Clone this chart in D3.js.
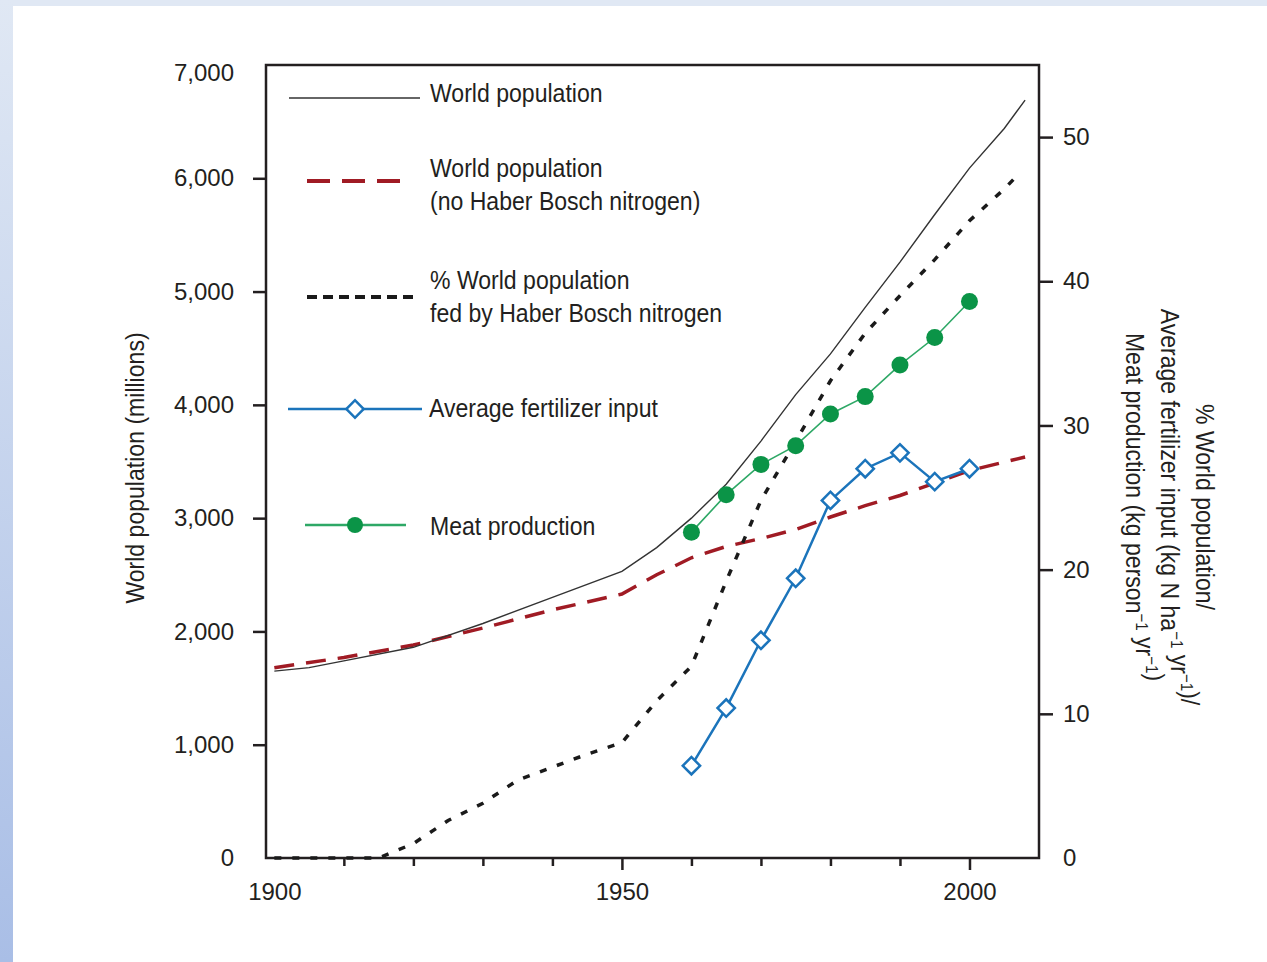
<!DOCTYPE html>
<html>
<head>
<meta charset="utf-8">
<script src="https://cdn.jsdelivr.net/npm/d3@7"></script>
<style>
body { margin: 0; background: #fff; }
svg { display: block; font-family: "Liberation Sans", Arial, sans-serif; }
</style>
</head>
<body>
<svg id="chart"></svg>
<script>
// world population (millions), left axis
const popYears = [1900, 1905, 1910, 1920, 1930, 1940, 1950, 1955, 1960, 1965, 1970, 1975, 1980, 1985, 1990, 1995, 2000, 2005, 2008];
const worldPop = [1650, 1680, 1740, 1860, 2070, 2300, 2530, 2740, 3000, 3300, 3680, 4090, 4450, 4860, 5260, 5680, 6090, 6440, 6690];

// world population without Haber Bosch nitrogen, left axis
const noHbYears = [1900, 1910, 1920, 1930, 1940, 1950, 1955, 1960, 1965, 1970, 1975, 1980, 1985, 1990, 1995, 2000, 2008];
const noHbPop = [1680, 1770, 1880, 2030, 2190, 2330, 2500, 2650, 2750, 2820, 2900, 3010, 3110, 3200, 3310, 3420, 3540];

// % of world population fed by Haber Bosch nitrogen, right axis
const fedYears = [1900, 1905, 1910, 1915, 1920, 1925, 1930, 1935, 1940, 1945, 1950, 1955, 1960, 1965, 1970, 1975, 1980, 1985, 1990, 1995, 2000, 2005, 2007];
const fedPct = [0, 0, 0, 0, 1.0, 2.6, 3.8, 5.4, 6.3, 7.2, 8.0, 10.9, 13.3, 19.2, 24.8, 28.9, 33.1, 36.4, 39.0, 41.5, 44.2, 46.4, 47.4];

// fertilizer input (kg N/ha/yr) and meat production (kg/person/yr), right axis
const markYears = [1960, 1965, 1970, 1975, 1980, 1985, 1990, 1995, 2000];
const fertilizer = [6.4, 10.4, 15.1, 19.4, 24.8, 27.0, 28.1, 26.1, 27.0];
const meat = [22.6, 25.2, 27.3, 28.6, 30.8, 32.0, 34.2, 36.1, 38.6];

// axis ticks
const leftTicks = [0, 1000, 2000, 3000, 4000, 5000, 6000, 7000];
const rightTicks = [0, 10, 20, 30, 40, 50];
const yearTicks = [1900, 1910, 1920, 1930, 1940, 1950, 1960, 1970, 1980, 1990, 2000];
const yearLabels = [1900, 1950, 2000];

const ink = "#231f20";
const red = "#a01b24";
const blue = "#1b74bb";
const green = "#0b9447";
const squeeze = 0.887;

const svg = d3.select("#chart").attr("width", 1267).attr("height", 962);

// page background strips
const grad = svg.append("defs").append("linearGradient")
    .attr("id", "side").attr("x1", 0).attr("y1", 0).attr("x2", 0).attr("y2", 1);
grad.append("stop").attr("offset", "0%").attr("stop-color", "#e0e8f4");
grad.append("stop").attr("offset", "100%").attr("stop-color", "#a9bee6");
svg.append("rect").attr("width", 1267).attr("height", 6).attr("fill", "#e0e8f4");
svg.append("rect").attr("width", 13).attr("height", 962).attr("fill", "url(#side)");

// scales
const x = d3.scaleLinear().domain([1898.8, 2010]).range([266, 1039]);
const yLeft = d3.scaleLinear().domain([0, 7000]).range([858, 65]);
const yRight = d3.scaleLinear().domain([0, 55]).range([858, 65]);

function styleAxis(g) {
    g.attr("font-size", 24).attr("font-family", "Liberation Sans, Arial, sans-serif");
    g.select(".domain").remove();
    g.selectAll(".tick line").attr("stroke", ink).attr("stroke-width", 2.5);
    g.selectAll(".tick text").attr("fill", ink);
}

// left axis
const leftAxis = svg.append("g")
    .attr("transform", "translate(266,0)")
    .call(d3.axisLeft(yLeft).tickValues(leftTicks).tickFormat(d3.format(",")).tickSize(13).tickPadding(19))
    .call(styleAxis);
leftAxis.selectAll(".tick").filter(d => d === 0 || d === 7000).select("line").remove();
leftAxis.selectAll(".tick text").filter(d => d === 7000).attr("dy", "0.64em");

// right axis
const rightAxis = svg.append("g")
    .attr("transform", "translate(1039,0)")
    .call(d3.axisRight(yRight).tickValues(rightTicks).tickSize(14).tickPadding(10))
    .call(styleAxis);
rightAxis.selectAll(".tick").filter(d => d === 0).select("line").remove();

// bottom axis
const bottomAxis = svg.append("g")
    .attr("transform", "translate(0,858)")
    .call(d3.axisBottom(x).tickValues(yearTicks)
        .tickFormat(d => yearLabels.includes(d) ? d : "").tickSize(8).tickPadding(17))
    .call(styleAxis);
bottomAxis.selectAll(".tick").filter(d => d === 1900).select("line").remove();
bottomAxis.selectAll(".tick").filter(d => d === 1950 || d === 2000).select("line").attr("y2", 12);

// frame
svg.append("rect")
    .attr("x", x.range()[0]).attr("y", yLeft.range()[1])
    .attr("width", x.range()[1] - x.range()[0])
    .attr("height", yLeft.range()[0] - yLeft.range()[1])
    .attr("fill", "none").attr("stroke", ink).attr("stroke-width", 2.5);

// series
const lineLeft = d3.line().x(d => x(d[0])).y(d => yLeft(d[1]));
const lineRight = d3.line().x(d => x(d[0])).y(d => yRight(d[1]));

svg.append("path")
    .datum(d3.zip(noHbYears, noHbPop))
    .attr("d", lineLeft)
    .attr("fill", "none").attr("stroke", red).attr("stroke-width", 3.5)
    .attr("stroke-dasharray", "20,12");

svg.append("path")
    .datum(d3.zip(popYears, worldPop))
    .attr("d", lineLeft)
    .attr("fill", "none").attr("stroke", "#333").attr("stroke-width", 1.4);

svg.append("path")
    .datum(d3.zip(fedYears, fedPct))
    .attr("d", lineRight)
    .attr("fill", "none").attr("stroke", "#1a1a1a").attr("stroke-width", 3.5)
    .attr("stroke-dasharray", "7,11");

const fertData = d3.zip(markYears, fertilizer);
svg.append("path")
    .datum(fertData)
    .attr("d", lineRight)
    .attr("fill", "none").attr("stroke", blue).attr("stroke-width", 2.5);

const diamond = d3.symbol().type(d3.symbolSquare).size(150);
svg.append("g").selectAll("path")
    .data(fertData)
    .enter().append("path")
    .attr("d", diamond)
    .attr("transform", d => `translate(${x(d[0])},${yRight(d[1])}) rotate(45)`)
    .attr("fill", "#fff").attr("stroke", blue).attr("stroke-width", 2.5);

const meatData = d3.zip(markYears, meat);
svg.append("path")
    .datum(meatData)
    .attr("d", lineRight)
    .attr("fill", "none").attr("stroke", "#2ea866").attr("stroke-width", 1.6);

svg.append("g").selectAll("circle")
    .data(meatData)
    .enter().append("circle")
    .attr("cx", d => x(d[0]))
    .attr("cy", d => yRight(d[1]))
    .attr("r", 8.5)
    .attr("fill", green);

// condensed text helper
function label(parent, tx, ty, text, anchor) {
    const g = parent.append("g").attr("transform", `translate(${tx},${ty}) scale(${squeeze},1)`);
    return g.append("text")
        .attr("font-size", 26).attr("fill", ink)
        .attr("text-anchor", anchor || "start")
        .text(text);
}

// legend
const legend = svg.append("g");

legend.append("line").attr("x1", 289).attr("x2", 420).attr("y1", 98).attr("y2", 98)
    .attr("stroke", "#333").attr("stroke-width", 1.6);
label(legend, 430, 102, "World population");

legend.append("line").attr("x1", 307).attr("x2", 404).attr("y1", 181).attr("y2", 181)
    .attr("stroke", red).attr("stroke-width", 4).attr("stroke-dasharray", "23,12");
label(legend, 430, 177, "World population");
label(legend, 430, 210, "(no Haber Bosch nitrogen)");

legend.append("line").attr("x1", 307).attr("x2", 413).attr("y1", 297).attr("y2", 297)
    .attr("stroke", "#1a1a1a").attr("stroke-width", 4).attr("stroke-dasharray", "10,6");
label(legend, 430, 289, "% World population");
label(legend, 430, 322, "fed by Haber Bosch nitrogen");

legend.append("line").attr("x1", 288).attr("x2", 422).attr("y1", 409).attr("y2", 409)
    .attr("stroke", blue).attr("stroke-width", 2.5);
legend.append("path").attr("d", diamond).attr("transform", "translate(355,409) rotate(45)")
    .attr("fill", "#fff").attr("stroke", blue).attr("stroke-width", 2.5);
label(legend, 429, 417, "Average fertilizer input");

legend.append("line").attr("x1", 305).attr("x2", 406).attr("y1", 525).attr("y2", 525)
    .attr("stroke", "#2ea866").attr("stroke-width", 2.5);
legend.append("circle").attr("cx", 355).attr("cy", 525).attr("r", 8).attr("fill", green);
label(legend, 430, 535, "Meat production");

// left axis title
svg.append("g")
    .attr("transform", `translate(135,468) rotate(-90) scale(${squeeze},1)`)
    .append("text")
    .attr("y", 9).attr("text-anchor", "middle")
    .attr("font-size", 26).attr("fill", ink)
    .text("World population (millions)");

// right axis title, three lines
const rightTitle = svg.append("g")
    .attr("transform", `translate(1205,507) rotate(90) scale(${squeeze},1)`)
    .attr("font-size", 26).attr("fill", ink).attr("text-anchor", "middle");

rightTitle.append("text").attr("y", 9).text("% World population/");

function withSup(t, parts) {
    parts.forEach(p => {
        if (p.sup) {
            t.append("tspan").attr("font-size", 17).attr("dy", -10).text(p.sup);
            t.append("tspan").attr("font-size", 26).attr("dy", 10).text("");
        } else {
            t.append("tspan").text(p.txt);
        }
    });
}
withSup(rightTitle.append("text").attr("y", 44), [
    {txt: "Average fertilizer input (kg N ha"}, {sup: "\u22121"}, {txt: " yr"}, {sup: "\u22121"}, {txt: ")/"}
]);
withSup(rightTitle.append("text").attr("y", 79), [
    {txt: "Meat production (kg person"}, {sup: "\u22121"}, {txt: " yr"}, {sup: "\u22121"}, {txt: ")"}
]);
</script>
</body>
</html>
